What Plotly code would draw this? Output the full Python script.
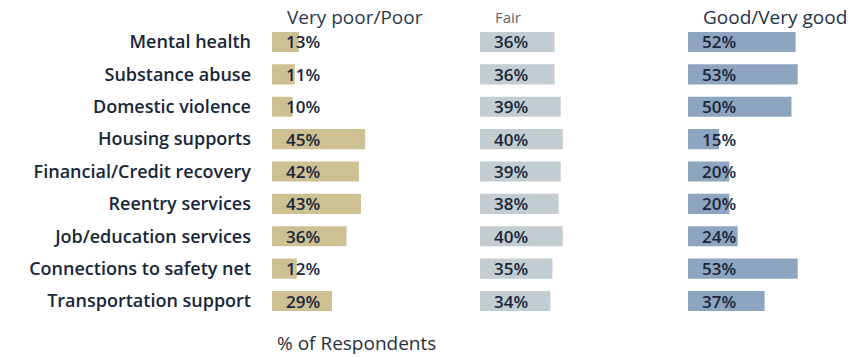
import plotly.graph_objects as go

# Survey ratings of services, share of respondents per rating group
categories = [
    "Mental health",
    "Substance abuse",
    "Domestic violence",
    "Housing supports",
    "Financial/Credit recovery",
    "Reentry services",
    "Job/education services",
    "Connections to safety net",
    "Transportation support",
]
groups = ["Very poor/Poor", "Fair", "Good/Very good"]
poor = [13, 11, 10, 45, 42, 43, 36, 12, 29]
fair = [36, 36, 39, 40, 39, 38, 40, 35, 34]
good = [52, 53, 50, 15, 20, 20, 24, 53, 37]
series = [poor, fair, good]

colors = ["#cdc193", "#c3ccd0", "#8da5be"]
header_colors = ["#2c3a4c", "#5d6670", "#1f3347"]
header_sizes = [19, 15, 19]

W, H = 860, 357
PX_PER_PCT = 2.07
# panel pixel extents (left, right)
panels = [(272, 478), (480, 686), (688, 860)]

FONT = "Open Sans"
INK = "#18263a"

fig = go.Figure()
axis_names = ["x", "x2", "x3"]
for i, vals in enumerate(series):
    fig.add_trace(go.Bar(
        x=vals, y=categories, orientation="h",
        xaxis=axis_names[i], yaxis="y",
        marker=dict(color=colors[i], line=dict(width=0)),
        width=0.62, hoverinfo="skip", showlegend=False,
    ))
    # value labels sit at the start of each bar
    for cat, v in zip(categories, vals):
        fig.add_annotation(
            x=0, y=cat, xref=axis_names[i], yref="y",
            text=f"{v}%", showarrow=False, xanchor="left", xshift=12,
            font=dict(family=FONT, size=17, color=INK, weight=600),
        )

layout = {}
for i, (l, r) in enumerate(panels):
    key = "xaxis" if i == 0 else f"xaxis{i+1}"
    layout[key] = dict(
        domain=[l / W, r / W],
        range=[0, (r - l) / PX_PER_PCT],
        visible=False, fixedrange=True, anchor="y",
    )
    fig.add_annotation(
        x=(l + 13) / W, y=1 - 17 / H, xref="paper", yref="paper",
        text=groups[i], showarrow=False, xanchor="left", yanchor="middle",
        font=dict(family=FONT, size=header_sizes[i], color=header_colors[i]),
    )

top_px, bottom_px = 42 - 16.2, 301 + 16.2
layout["yaxis"] = dict(
    domain=[1 - bottom_px / H, 1 - top_px / H],
    autorange="reversed", anchor="x",
    showgrid=False, zeroline=False, showline=False, ticks="",
    ticklabelstandoff=20,
    tickfont=dict(family=FONT, size=18, color=INK, weight=600),
)

fig.add_annotation(
    x=275 / W, y=1 - 343 / H, xref="paper", yref="paper",
    text="% of Respondents", showarrow=False, xanchor="left", yanchor="middle",
    font=dict(family=FONT, size=19, color="#2a3038"),
)

fig.update_layout(
    width=W, height=H,
    margin=dict(l=0, r=0, t=0, b=0),
    paper_bgcolor="white", plot_bgcolor="white",
    bargap=0.38,
    **layout,
)

fig.write_html("out.html")
